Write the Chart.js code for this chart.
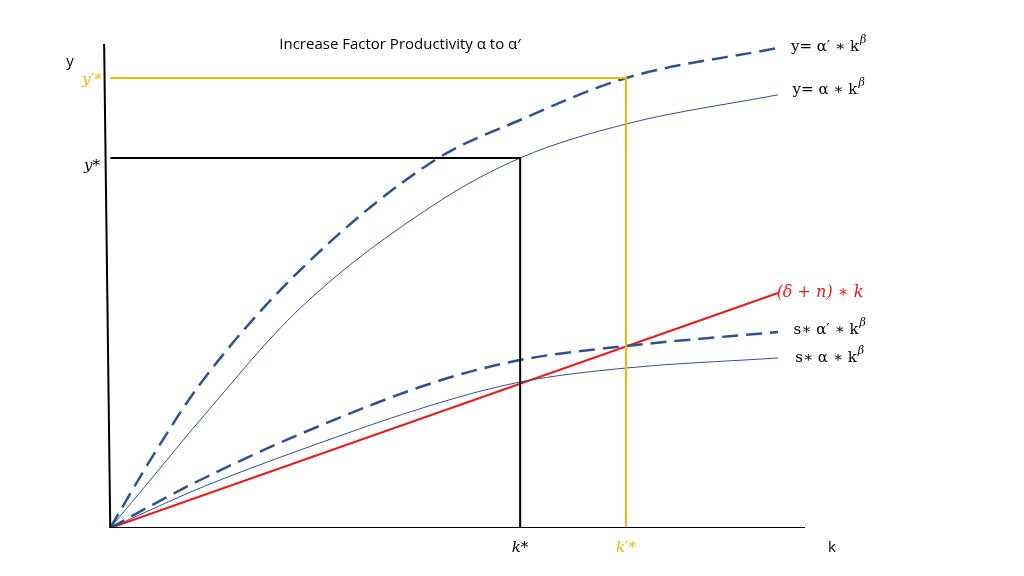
<!DOCTYPE html>
<html><head><meta charset="utf-8">
<script src="https://cdn.jsdelivr.net/npm/chart.js@4"></script>
<style>html,body{margin:0;background:#fff}#wrap{width:1024px;height:576px}</style>
</head><body><div id="wrap"><canvas id="c"></canvas></div>
<script>
// capital k along the x axis, where the curves were read
const kPts = [0, 0.98, 2.2, 4.65, 7.95, 10.03, 12.62, 16.34];
const yHigh = [0, 1.7, 3.6, 6.45, 9.2, 10.2, 11.25, 12.0];       // y = α' k^β
const yLow = [0, 1.2, 2.7, 5.5, 8.1, 9.25, 10.1, 10.83];         // y = α k^β
const sHigh = [0, 0.55, 1.2, 2.35, 3.65, 4.2, 4.55, 4.9];        // s α' k^β
const sLow = [0, 0.45, 1.0, 1.95, 3.1, 3.65, 4.0, 4.25];         // s α k^β
const breakEven = [[0, 0], [16.34, 5.875]];                       // (δ+n) k
const kStar = 10.03, yStar = 9.25;
const kStar2 = 12.62, yStar2 = 11.25;

const pts = ys => kPts.map((k, i) => ({x: k, y: ys[i]}));
const xy = a => a.map(p => ({x: p[0], y: p[1]}));
const blue = '#2f5190';

const curve = (data, dashed) => ({
    data, borderColor: blue, borderWidth: dashed ? 2.5 : 1,
    borderDash: dashed ? [16, 8] : [], pointRadius: 0, cubicInterpolationMode: 'monotone'
});
const seg = (data, color, w) => ({data, borderColor: color, borderWidth: w, pointRadius: 0, tension: 0});

const texts = [
    {t: 'Increase Factor Productivity α to α′', x: 400, y: 45, c: '#000', f: '15px "Open Sans"'},
    {t: 'y', x: 70, y: 62, c: '#000', f: '15px "Open Sans"'},
    {t: 'y′*', x: 92, y: 80, c: '#f2b800', f: 'italic 15px "DejaVu Serif"'},
    {t: 'y*', x: 92, y: 166, c: '#000', f: 'italic 15px "DejaVu Serif"'},
    {t: 'k*', x: 520, y: 548, c: '#000', f: 'italic 15px "DejaVu Serif"'},
    {t: 'k′*', x: 626, y: 548, c: '#f2b800', f: 'italic 15px "DejaVu Serif"'},
    {t: 'k', x: 832, y: 548, c: '#000', f: '15px "Open Sans"'},
    {t: 'y= α′ ∗ k', x: 825, y: 47, c: '#000', f: '15px "DejaVu Serif"', sup: 'β'},
    {t: 'y= α ∗ k', x: 825, y: 90, c: '#000', f: '15px "DejaVu Serif"', sup: 'β'},
    {t: '(δ + n) ∗ k', x: 820, y: 293, c: '#e81a1a', f: 'italic 16px "DejaVu Serif"'},
    {t: 's∗ α′ ∗ k', x: 826, y: 330, c: '#000', f: '15px "DejaVu Serif"', sup: 'β'},
    {t: 's∗ α ∗ k', x: 826, y: 358, c: '#000', f: '15px "DejaVu Serif"', sup: 'β'}
];

const textPlugin = {
    id: 'texts',
    afterDraw(chart) {
        const ctx = chart.ctx;
        ctx.save();
        ctx.textAlign = 'center'; ctx.textBaseline = 'middle';
        for (const t of texts) {
            ctx.font = t.f; ctx.fillStyle = t.c;
            ctx.fillText(t.t, t.x, t.y);
            if (t.sup) {
                const w = ctx.measureText(t.t).width;
                ctx.font = 'italic 11px "DejaVu Serif"';
                ctx.textAlign = 'left';
                ctx.fillText(t.sup, t.x + w / 2 + 1, t.y - 7);
                ctx.textAlign = 'center';
            }
        }
        ctx.restore();
    }
};

new Chart(document.getElementById('c'), {
    type: 'line',
    data: {datasets: [
        seg([{x: -0.15, y: 12.1}, {x: 0, y: 0}], '#000', 2),
        seg([{x: 0, y: 0}, {x: 17, y: 0}], '#000', 2),
        seg([{x: 0, y: yStar}, {x: kStar, y: yStar}, {x: kStar, y: 0}], '#000', 2),
        seg([{x: 0, y: yStar2}, {x: kStar2, y: yStar2}, {x: kStar2, y: 0}], '#f2b800', 2),
        curve(pts(yHigh), true),
        curve(pts(yLow), false),
        curve(pts(sHigh), true),
        curve(pts(sLow), false),
        seg(xy(breakEven), '#e81a1a', 2)
    ]},
    options: {
        responsive: true, maintainAspectRatio: false, animation: false,
        layout: {padding: {left: 98, right: 219, top: 44, bottom: 48}},
        scales: {
            x: {type: 'linear', min: -0.3, max: 17, display: false},
            y: {min: 0, max: 12.1, display: false}
        },
        plugins: {legend: {display: false}, tooltip: {enabled: false}},
        elements: {line: {fill: false}}
    },
    plugins: [textPlugin]
});
</script></body></html>
